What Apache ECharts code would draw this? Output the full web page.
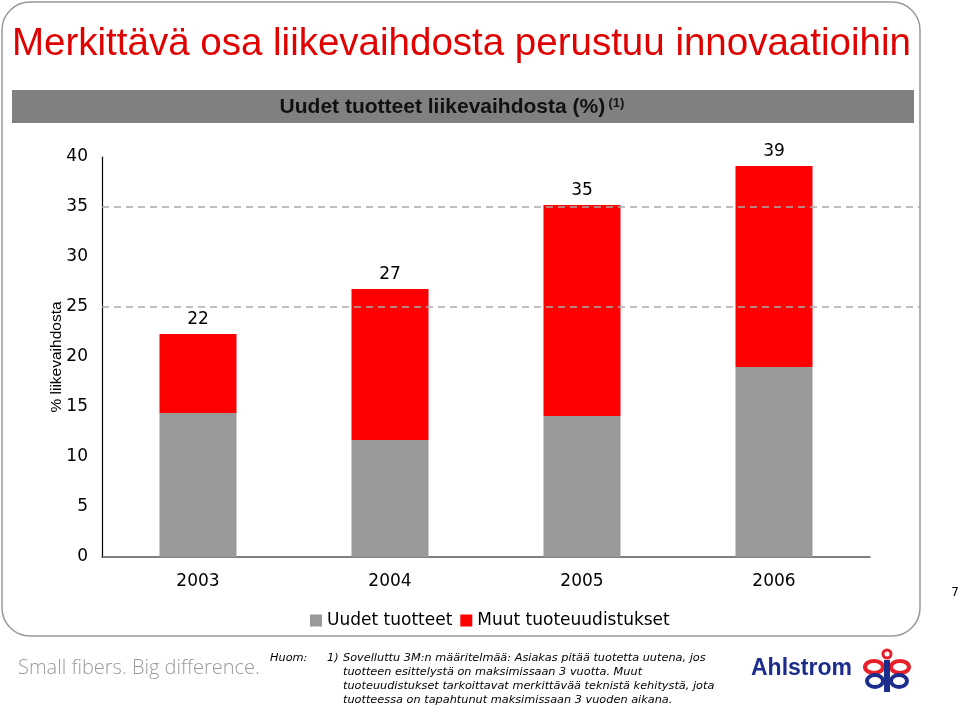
<!DOCTYPE html>
<html>
<head>
<meta charset="utf-8">
<script src="https://cdn.jsdelivr.net/npm/echarts@6/dist/echarts.min.js"></script>
<style>html,body{margin:0;padding:0;background:#fff;}#c{width:960px;height:709px;}</style>
</head>
<body>
<div id="c"></div>
<script>
var categories = ['2003', '2004', '2005', '2006'];
var newProducts = [14.4, 11.7, 14.1, 19.0];
var otherRenewals = [7.9, 15.1, 21.1, 20.1];
var totalLabels = ['22', '27', '35', '39'];
var refLines = [25, 35];
var seriesNames = ['Uudet tuotteet', 'Muut tuoteuudistukset'];
var titleText = 'Merkittävä osa liikevaihdosta perustuu innovaatioihin';
var headerText = 'Uudet tuotteet liikevaihdosta (%)';
var yAxisTitle = '% liikevaihdosta';
var noteLines = [
  'Sovelluttu 3M:n määritelmää: Asiakas pitää tuotetta uutena, jos',
  'tuotteen esittelystä on maksimissaan 3 vuotta. Muut',
  'tuoteuudistukset tarkoittavat merkittävää teknistä kehitystä, jota',
  'tuotteessa on tapahtunut maksimissaan 3 vuoden aikana.'
];

var chart = echarts.init(document.getElementById('c'), null, {renderer: 'canvas'});
var tickFont = '"DejaVu Sans", Verdana, sans-serif';
var noteFont = '"DejaVu Sans", Verdana, sans-serif';
var noteGraphics = noteLines.map(function (t, i) {
  return {type: 'text', left: 343, top: 653 + i * 14, z: 10,
    style: {text: t, fontSize: 11.3, fontStyle: 'italic', fontFamily: noteFont, fill: '#000'}};
});

var option = {
  backgroundColor: '#fff',
  animation: false,
  grid: [
    {left: 102, right: 90, top: 157, bottom: 152},
    {left: 102, right: 40, top: 157, bottom: 152}
  ],
  legend: {
    data: seriesNames,
    left: 310, top: 612,
    icon: 'rect', itemWidth: 12, itemHeight: 12, itemGap: 8,
    textStyle: {fontSize: 17, fontFamily: tickFont, color: '#000'},
    padding: 0
  },
  xAxis: [
    {type: 'category', data: categories, gridIndex: 0,
      axisLine: {lineStyle: {color: '#555', width: 1.5}},
      axisTick: {show: false},
      axisLabel: {fontSize: 17, fontFamily: tickFont, color: '#000', margin: 16}},
    {type: 'value', gridIndex: 1, min: 0, max: 1, show: false}
  ],
  yAxis: [
    {type: 'value', gridIndex: 0, min: 0, max: 40, interval: 5,
      axisLine: {show: true, lineStyle: {color: '#000', width: 1.2}},
      axisTick: {show: false},
      splitLine: {show: false},
      axisLabel: {fontSize: 17, fontFamily: tickFont, color: '#000', margin: 14}},
    {type: 'value', gridIndex: 1, min: 0, max: 40, show: false}
  ],
  series: [
    {name: seriesNames[0], type: 'bar', stack: 's', data: newProducts,
      xAxisIndex: 0, yAxisIndex: 0, barWidth: 77,
      itemStyle: {color: '#999999'}},
    {name: seriesNames[1], type: 'bar', stack: 's', data: otherRenewals,
      xAxisIndex: 0, yAxisIndex: 0, barWidth: 77,
      itemStyle: {color: '#ff0000'},
      label: {show: true, position: 'top', distance: 6, fontSize: 17, fontFamily: tickFont, color: '#000',
        formatter: function (p) { return totalLabels[p.dataIndex]; }}},
    {type: 'line', xAxisIndex: 1, yAxisIndex: 1, data: [], z: 20,
      markLine: {silent: true, symbol: 'none', label: {show: false},
        lineStyle: {color: '#aaaaaa', type: [7, 5], width: 1.5},
        data: refLines.map(function (v) { return {yAxis: v}; })}}
  ],
  graphic: [
    {type: 'rect', shape: {x: 2, y: 2, width: 918, height: 634, r: 28}, z: -1,
      style: {fill: 'none', stroke: '#999', lineWidth: 1.5}},
    {type: 'text', x: 12, y: 44, z: 10,
      style: {text: titleText, verticalAlign: 'middle', fontSize: 38.5, fontFamily: '"Liberation Sans", Tahoma, sans-serif', fill: '#e00000'}},
    {type: 'rect', shape: {x: 12, y: 90, width: 902, height: 33}, z: 1,
      style: {fill: '#808080'}},
    {type: 'text', x: 452, y: 107, z: 10,
      style: {text: '{m|' + headerText + '} {s|(1)}', align: 'center', verticalAlign: 'middle',
        rich: {
          m: {fontSize: 21, fontWeight: 'bold', fontFamily: '"Liberation Sans", Tahoma, sans-serif', fill: '#111'},
          s: {fontSize: 13, fontWeight: 'bold', fontFamily: '"Liberation Sans", Tahoma, sans-serif', fill: '#111', padding: [0, 0, 8, 0]}
        }}},
    {type: 'text', x: 57, y: 357, rotation: Math.PI / 2, z: 10,
      style: {text: yAxisTitle, align: 'center', verticalAlign: 'middle', fontSize: 15.5, fontFamily: '"Liberation Sans", Arial, sans-serif', fill: '#000'}},
    {type: 'text', x: 955, y: 593, z: 10,
      style: {text: '7', align: 'center', verticalAlign: 'middle', fontSize: 12, fontFamily: tickFont, fill: '#000'}},
    {type: 'text', left: 18, top: 658, z: 10,
      style: {text: 'Small fibers. Big difference.', fontSize: 20, fontFamily: '"Open Sans", Lato, sans-serif', fontWeight: 300, fill: '#9a9a9a'}},
    {type: 'text', left: 270, top: 653, z: 10,
      style: {text: 'Huom:', fontSize: 11.3, fontStyle: 'italic', fontFamily: noteFont, fill: '#000'}},
    {type: 'text', left: 327, top: 653, z: 10,
      style: {text: '1)', fontSize: 11.3, fontStyle: 'italic', fontFamily: noteFont, fill: '#000'}},
    {type: 'text', left: 751, top: 657, z: 10,
      style: {text: 'Ahlstrom', fontSize: 23, fontWeight: 'bold', fontFamily: '"Liberation Sans", Arial, sans-serif', fill: '#1c2d8c'}},
    {type: 'circle', shape: {cx: 887, cy: 654, r: 4}, z: 10, style: {fill: 'none', stroke: '#e8202a', lineWidth: 3}},
    {type: 'ellipse', shape: {cx: 874, cy: 667, rx: 9, ry: 6}, z: 10, style: {fill: 'none', stroke: '#e8202a', lineWidth: 4}},
    {type: 'ellipse', shape: {cx: 900, cy: 667, rx: 9, ry: 6}, z: 10, style: {fill: 'none', stroke: '#e8202a', lineWidth: 4}},
    {type: 'ellipse', shape: {cx: 875, cy: 681, rx: 8, ry: 6}, z: 10, style: {fill: 'none', stroke: '#1c2d8c', lineWidth: 4}},
    {type: 'ellipse', shape: {cx: 899, cy: 681, rx: 8, ry: 6}, z: 10, style: {fill: 'none', stroke: '#1c2d8c', lineWidth: 4}},
    {type: 'rect', shape: {x: 884, y: 660, width: 6, height: 32}, z: 11, style: {fill: '#1c2d8c'}}
  ].concat(noteGraphics)
};
chart.setOption(option);
</script>
</body>
</html>
